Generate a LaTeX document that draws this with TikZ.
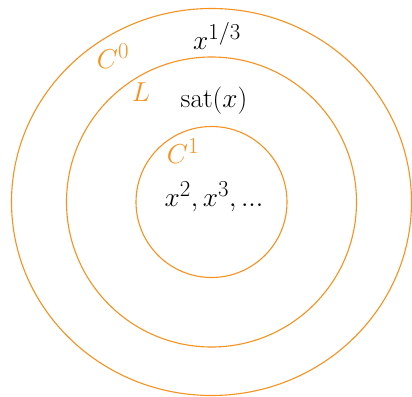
\documentclass[tikz,border=0pt]{standalone}
\usepackage{xcolor}
\usepackage{tikz}
\usetikzlibrary{positioning}
\definecolor{ringorange}{RGB}{245,146,32}

\begin{document}
\begin{tikzpicture}[
  x=1pt, y=1pt,
  font=\fontsize{24.88}{30}\selectfont,
  ring/.style={draw=ringorange, line width=1.1pt},
  setname/.style={text=ringorange, inner sep=0pt, scale=1.1, transform shape},
  member/.style={text=black, inner sep=0pt, scale=1.1, transform shape}
]
\useasboundingbox (0,-396) rectangle (412,0);

\coordinate (o) at (211.5,-202);

% the three classes
\draw[ring] (o) ellipse [x radius=200, y radius=193.5];
\draw[ring] (o) circle [radius=145];
\draw[ring] (o) circle [radius=75.5];

\node[setname] (c0) at (113,-56) {$C^0$};
\node[setname] (lip) at (141,-92) {$L$};
\node[setname] (c1) at (183,-151) {$C^1$};

\node[member] (cuberoot) at (217,-36) {$x^{1/3}$};
\node[member] (sat) at (214,-101) {$\mathrm{sat}(x)$};
\node[member] (powers) at (214,-197) {$x^2, x^3, ...$};

\end{tikzpicture}
\end{document}
